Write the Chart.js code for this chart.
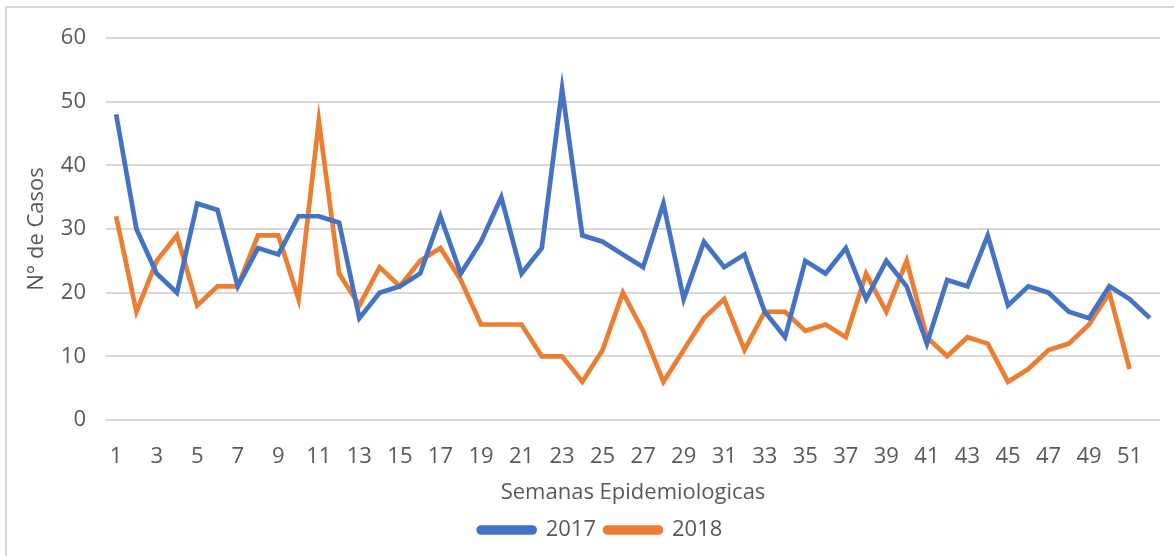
<!DOCTYPE html>
<html>
<head>
<meta charset="utf-8">
<script src="https://cdn.jsdelivr.net/npm/chart.js@4.4.1/dist/chart.umd.min.js"></script>
<style>
  body { margin: 0; background: #fff; }
  #wrap { position: relative; width: 1174px; height: 556px; overflow: hidden; }
  #frame { position: absolute; left: 5px; top: 6px; width: 1180px; height: 560px; border: 2px solid #d9d9d9; box-sizing: border-box; }
  canvas { position: absolute; left: 0; top: 0; }
</style>
</head>
<body>
<div id="wrap">
  <div id="frame"></div>
  <canvas id="myLineChart" width="1174" height="556"></canvas>
</div>
<script>
// semanas epidemiologicas 1..52
var weeks = [];
for (var w = 1; w <= 52; w++) weeks.push(String(w));

var cases2017 = [48, 30, 23, 20, 34, 33, 21, 27, 26, 32, 32, 31, 16, 20, 21, 23, 32, 23, 28, 35,
    23, 27, 52, 29, 28, 26, 24, 34, 19, 28, 24, 26, 17, 13, 25, 23, 27, 19, 25, 21,
    12, 22, 21, 29, 18, 21, 20, 17, 16, 21, 19, 16];
var cases2018 = [32, 17, 25, 29, 18, 21, 21, 29, 29, 19, 47, 23, 18, 24, 21, 25, 27, 22, 15, 15,
    15, 10, 10, 6, 11, 20, 14, 6, 11, 16, 19, 11, 17, 17, 14, 15, 13, 23, 17, 25,
    13, 10, 13, 12, 6, 8, 11, 12, 15, 20, 8, null];

var textColor = "#595959";
var fontFamily = "'Open Sans', Lato, sans-serif";
var fontSize = 22;

var lineData = {
    labels: weeks,
    datasets: [{
        label: "2017",
        data: cases2017,
        borderColor: "#4472C4",
        backgroundColor: "#4472C4",
        borderWidth: 4.7,
        pointRadius: 0,
        lineTension: 0,
        fill: false
    }, {
        label: "2018",
        data: cases2018,
        borderColor: "#ED7D31",
        backgroundColor: "#ED7D31",
        borderWidth: 4.7,
        pointRadius: 0,
        lineTension: 0,
        fill: false
    }]
};

var lineOptions = {
    responsive: false,
    animation: false,
    layout: {
        // left padding only shifts the centred legend; axis width is fixed below
        padding: { left: 40, right: 13, top: 38, bottom: 5 }
    },
    plugins: {
        legend: {
            position: "bottom",
            labels: {
                color: textColor,
                font: { family: fontFamily, size: fontSize },
                boxWidth: 56,
                boxHeight: 5,
                padding: 9,
                useBorderRadius: true,
                borderRadius: 2.5
            }
        },
        tooltip: { enabled: false }
    },
    scales: {
        x: {
            offset: true,
            grid: { display: false, drawTicks: false },
            border: { display: false },
            ticks: {
                color: textColor,
                font: { family: fontFamily, size: fontSize },
                padding: 24,
                autoSkip: false,
                maxRotation: 0,
                callback: function (val, i) {
                    return i % 2 === 0 ? weeks[i] : "";
                }
            },
            title: {
                display: true,
                text: "Semanas Epidemiologicas",
                color: textColor,
                font: { family: fontFamily, size: fontSize },
                padding: { top: 0, bottom: 4 }
            },
            afterFit: function (scale) { scale.height = 90; }
        },
        y: {
            min: 0,
            max: 60,
            grid: { color: "#d9d9d9", lineWidth: 2, drawTicks: false },
            border: { display: false },
            ticks: {
                stepSize: 10,
                color: textColor,
                font: { family: fontFamily, size: fontSize },
                padding: 20
            },
            title: {
                display: true,
                text: "N° de Casos",
                color: textColor,
                font: { family: fontFamily, size: fontSize },
                padding: { top: -16, bottom: 0 }
            },
            afterFit: function (scale) { scale.width = 66; }
        }
    }
};

var myLineChart = new Chart(document.getElementById("myLineChart"), {
    type: "line",
    data: lineData,
    options: lineOptions
});
</script>
</body>
</html>
